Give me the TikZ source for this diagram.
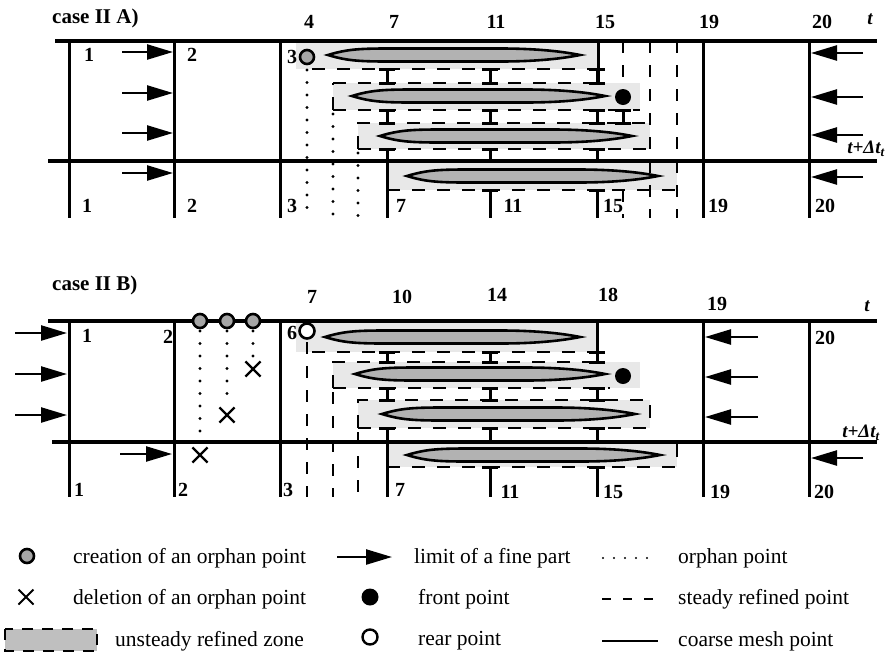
\documentclass[tikz,border=0pt]{standalone}
\usepackage{fontspec}
\setmainfont{Liberation Serif}
\usetikzlibrary{arrows.meta,shapes.misc}

\tikzset{
  coarse/.style={line width=3pt},
  level/.style={line width=3.8pt},
  orphan/.style={line width=3.2pt, line cap=round, dash pattern=on 0pt off 12.5pt},
  steady/.style={line width=2.8pt, dash pattern=on 12pt off 12pt},
  zonefill/.style={fill=black!9},
  zoneedge/.style={line width=2.8pt, dash pattern=on 13pt off 12pt},
  lensshape/.style={line width=2.6pt, fill=black!30},
  limit/.style={line width=2.4pt, -{Triangle[length=26pt,width=15pt]}},
  numlab/.style={font=\bfseries\fontsize{20}{20}\selectfont, inner sep=0pt},
  titlelab/.style={font=\bfseries\fontsize{21}{21}\selectfont, inner sep=0pt, anchor=west},
  steplab/.style={font=\bfseries\itshape\fontsize{19}{19}\selectfont, inner sep=0pt},
  legtext/.style={font=\fontsize{21.5}{22}\selectfont, anchor=west, inner sep=0pt},
  born/.style={circle, draw, line width=2.6pt, fill=black!35, minimum size=14pt, inner sep=0pt},
  frontpt/.style={circle, fill=black, minimum size=16pt, inner sep=0pt},
  rearpt/.style={circle, draw, line width=2.6pt, fill=white, minimum size=15pt, inner sep=0pt},
  killed/.style={cross out, draw, line width=2.2pt, minimum size=13pt, inner sep=0pt},
}

% elongated lens: left tip x, right tip x, centre y
\newcommand\lensat[3]{%
  \draw[lensshape] (#1,#3) .. controls ({#1+18},{#3-5.5}) and ({#1+30},{#3-6.5}) .. ({#1+60},{#3-6.5})
    -- ({#2-80},{#3-6.5}) .. controls ({#2-40},{#3-6.5}) and ({#2-15},{#3-3}) .. (#2,#3)
    .. controls ({#2-15},{#3+3}) and ({#2-40},{#3+6.5}) .. ({#2-80},{#3+6.5})
    -- ({#1+60},{#3+6.5}) .. controls ({#1+30},{#3+6.5}) and ({#1+18},{#3+5.5}) .. cycle;}

% steady point segment between two zones: x, y from, y to
\newcommand\ibeam[3]{%
  \draw[line width=3pt] (#1,#2) -- (#1,#3);
  \draw[line width=3pt] ({#1-8},#2) -- ({#1+8},#2) ({#1-8},#3) -- ({#1+8},#3);}

% steady point leaving the last zone downwards
\newcommand\tbeam[3]{%
  \draw[line width=3pt] (#1,#2) -- (#1,#3);
  \draw[line width=3pt] ({#1-8},#2) -- ({#1+8},#2);}

\begin{document}
\begin{tikzpicture}[x=1pt, y=-1pt]
\useasboundingbox (0,0) rectangle (893,654);

% ================= case II A) =================
\node[titlelab] (titleA) at (52,18) {case II A)};

% unsteady refined zones
\fill[zonefill] (296,41) rectangle (598,69);
\fill[zonefill] (333,83) rectangle (640,110);
\fill[zonefill] (358,123) rectangle (650,149);
\fill[zonefill] (387,161) rectangle (677,190);

% coarse mesh points
\foreach \cx in {69,174,280,703,809} \draw[coarse] (\cx,41) -- (\cx,218);
\draw[coarse] (387,149) -- (387,218);
\draw[coarse] (598,41) -- (598,83);

% zone borders
\draw[zoneedge] (312,69) -- (598,69);
\draw[zoneedge] (333,83) -- (598,83);
\draw[zoneedge] (333,110) -- (333,83);
\draw[zoneedge] (333,110) -- (640,110);
\draw[zoneedge] (358,149) -- (358,123) -- (650,123);
\draw[zoneedge] (358,149) -- (650,149);
\draw[zoneedge] (387,190) -- (677,190);

% steady refined points on the right
\draw[steady] (623,41) -- (623,88);
\draw[steady] (650,41) -- (650,218);
\draw[steady] (677,41) -- (677,218);
\draw[steady] (623,190) -- (623,218);

% orphan points
\draw[orphan] (307,70) -- (307,218);
\draw[orphan] (333,114) -- (333,218);
\draw[orphan] (358,153) -- (358,218);

% steady points crossing the sub-steps
\foreach \sx in {387,490,597} {\ibeam{\sx}{69}{83}\ibeam{\sx}{110}{123}\ibeam{\sx}{149}{161}}
\ibeam{623}{110}{123}
\tbeam{490}{190}{218}
\tbeam{597}{190}{218}

% fine sub-steps
\lensat{328}{580}{55}
\lensat{352}{605}{96}
\lensat{380}{632}{136}
\lensat{407}{658}{176}

% time levels
\draw[level] (55,41) -- (877,41);
\draw[level] (48,161) -- (877,161);

\node[born] (bornA) at (307,57) {};
\node[frontpt] (frontA) at (623,97) {};

% limits of the fine part
\foreach \ay in {52,93,133,173} \draw[limit] (122,\ay) -- (173,\ay);
\foreach \ay in {53,97,135,177} \draw[limit] (863,\ay) -- (811,\ay);

% labels
\node[numlab] (hA4) at (309,22) {4};
\node[numlab] (hA7) at (394,22) {7};
\node[numlab] (hA11) at (496,22) {11};
\node[numlab] (hA15) at (605,22) {15};
\node[numlab] (hA19) at (709,22) {19};
\node[numlab] (hA20) at (822,22) {20};
\node[steplab] (tA) at (870,19) {t};
\node[steplab] (dtA) at (866,149) {t+Δt\textsubscript{\itshape t}};
\node[numlab] (a1) at (89,55) {1};
\node[numlab] (a2) at (192,55) {2};
\node[numlab] (a3) at (292,57) {3};
\node[numlab] (b1) at (87,206) {1};
\node[numlab] (b2) at (192,206) {2};
\node[numlab] (b3) at (292,206) {3};
\node[numlab] (b7) at (401,206) {7};
\node[numlab] (b11) at (513,206) {11};
\node[numlab] (b15) at (613,206) {15};
\node[numlab] (b19) at (718,206) {19};
\node[numlab] (b20) at (825,206) {20};

% ================= case II B) =================
\node[titlelab] (titleB) at (52,285) {case II B)};

\fill[zonefill] (296,321) rectangle (597,352);
\fill[zonefill] (333,362) rectangle (640,388);
\fill[zonefill] (358,400) rectangle (650,428);
\fill[zonefill] (387,442) rectangle (677,467);

\foreach \cx in {69,174,280,703,809} \draw[coarse] (\cx,321) -- (\cx,497);
\draw[coarse] (387,428) -- (387,497);
\draw[coarse] (597,321) -- (597,362);

\draw[zoneedge] (312,352) -- (597,352);
\draw[zoneedge] (333,388) -- (333,362) -- (597,362);
\draw[zoneedge] (333,388) -- (610,388);
\draw[zoneedge] (358,428) -- (358,400) -- (650,400) -- (650,428);
\draw[zoneedge] (358,428) -- (650,428);
\draw[zoneedge] (387,467) -- (677,467) -- (677,442);

% steady refined points on the left
\draw[steady] (307,342) -- (307,497);
\draw[steady] (333,392) -- (333,497);
\draw[steady] (358,432) -- (358,497);

% orphan points created then deleted
\draw[orphan] (200,331) -- (200,437);
\draw[orphan] (227,331) -- (227,402);
\draw[orphan] (253,331) -- (253,357);

\foreach \sx in {387,490,597} {\ibeam{\sx}{352}{362}\ibeam{\sx}{388}{400}\ibeam{\sx}{428}{442}}
\tbeam{490}{467}{497}
\tbeam{597}{467}{497}

\lensat{325}{580}{337}
\lensat{355}{605}{374}
\lensat{382}{635}{414}
\lensat{407}{660}{455}

\draw[level] (48,321) -- (877,321);
\draw[level] (52,442) -- (877,442);

\node[born] (bornB1) at (200,321) {};
\node[born] (bornB2) at (227,321) {};
\node[born] (bornB3) at (253,321) {};
\node[killed] (delB1) at (200,455) {};
\node[killed] (delB2) at (227,415) {};
\node[killed] (delB3) at (253,369) {};
\node[rearpt] (rearB) at (307,331) {};
\node[frontpt] (frontB) at (623,376) {};

\foreach \ay in {333,374,415} \draw[limit] (15,\ay) -- (67,\ay);
\draw[limit] (120,454) -- (172,454);
\foreach \ay in {337,377,417} \draw[limit] (758,\ay) -- (705,\ay);
\draw[limit] (863,458) -- (811,458);

\node[numlab] (hB7) at (312,297) {7};
\node[numlab] (hB10) at (402,297) {10};
\node[numlab] (hB14) at (497,295) {14};
\node[numlab] (hB18) at (608,295) {18};
\node[numlab] (hB19) at (717,304) {19};
\node[steplab] (tB) at (867,306) {t};
\node[steplab] (dtB) at (861,433) {t+Δt\textsubscript{\itshape t}};
\node[numlab] (c1) at (87,336) {1};
\node[numlab] (c2) at (168,337) {2};
\node[numlab] (c6) at (292,333) {6};
\node[numlab] (c20) at (825,338) {20};
\node[numlab] (d1) at (79,490) {1};
\node[numlab] (d2) at (183,490) {2};
\node[numlab] (d3) at (288,490) {3};
\node[numlab] (d7) at (400,490) {7};
\node[numlab] (d11) at (510,492) {11};
\node[numlab] (d15) at (613,492) {15};
\node[numlab] (d19) at (720,492) {19};
\node[numlab] (d20) at (824,492) {20};

% ================= legend =================
\node[born] (lg1) at (27,556) {};
\node[legtext] (lt1) at (73,558) {creation of an orphan point};
\node[killed, minimum size=13pt, line width=2pt] (lg2) at (26,597) {};
\node[legtext] (lt2) at (73,599) {deletion of an orphan point};
\fill[black!25] (5,629) rectangle (97,651);
\draw[line width=2.4pt, dash pattern=on 11pt off 9pt] (5,629) rectangle (97,651);
\node[legtext] (lt3) at (115,641) {unsteady refined zone};

\draw[limit] (337,557) -- (392,557);
\node[legtext] (lt4) at (414,558) {limit of a fine part};
\node[frontpt, minimum size=17pt] (lg5) at (370,597) {};
\node[legtext] (lt5) at (418,599) {front point};
\node[rearpt, minimum size=15pt, line width=2.4pt] (lg6) at (370,637) {};
\node[legtext] (lt6) at (418,641) {rear point};

\draw[line width=2.4pt, line cap=round, dash pattern=on 0pt off 11pt] (603,558) -- (658,558);
\draw[line width=2.6pt, dash pattern=on 9pt off 12pt] (602,599) -- (658,599);
\draw[line width=2.2pt] (602,641) -- (658,641);
\node[legtext] (lt7) at (678,558) {orphan point};
\node[legtext] (lt8) at (678,599) {steady refined point};
\node[legtext] (lt9) at (678,641) {coarse mesh point};
\end{tikzpicture}
\end{document}
